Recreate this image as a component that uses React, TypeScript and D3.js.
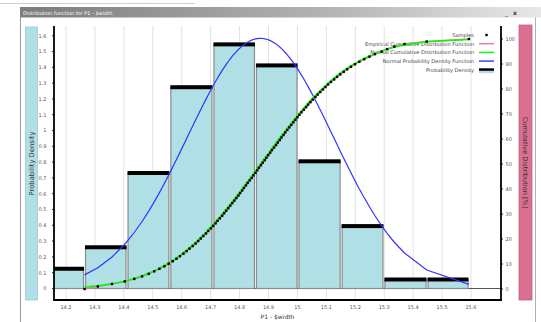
import React from "react";
import * as d3 from "d3";

// ---- data ----
const xTicks = [14.2, 14.3, 14.4, 14.5, 14.6, 14.7, 14.8, 14.9, 15.0, 15.1, 15.2, 15.3, 15.4, 15.5, 15.6];
const densityTicks = [0, 0.1, 0.2, 0.3, 0.4, 0.5, 0.6, 0.7, 0.8, 0.9, 1.0, 1.1, 1.2, 1.3, 1.4, 1.5, 1.6];
const percentTicks = [0, 10, 20, 30, 40, 50, 60, 70, 80, 90, 100];

const binEdges = [14.116, 14.264, 14.411, 14.559, 14.708, 14.855, 15.002, 15.151, 15.299, 15.448, 15.593];
const binDensity = [0.125, 0.261, 0.731, 1.274, 1.545, 1.412, 0.805, 0.395, 0.057, 0.057];

const samples = [
  14.264, 14.31, 14.359, 14.403, 14.436, 14.463, 14.486, 14.505, 14.523, 14.54,
  14.555, 14.569, 14.582, 14.594, 14.606, 14.617, 14.627, 14.638, 14.648, 14.657,
  14.666, 14.675, 14.684, 14.692, 14.701, 14.709, 14.717, 14.724, 14.732, 14.74,
  14.747, 14.754, 14.761, 14.768, 14.775, 14.782, 14.789, 14.796, 14.802, 14.809,
  14.815, 14.822, 14.828, 14.835, 14.842, 14.848, 14.855, 14.861, 14.867, 14.874,
  14.88, 14.887, 14.893, 14.899, 14.906, 14.912, 14.919, 14.926, 14.932, 14.939,
  14.945, 14.952, 14.958, 14.965, 14.972, 14.979, 14.986, 14.993, 15.0, 15.007,
  15.014, 15.022, 15.03, 15.037, 15.045, 15.053, 15.062, 15.07, 15.079, 15.088,
  15.097, 15.106, 15.116, 15.127, 15.137, 15.148, 15.16, 15.172, 15.185, 15.199,
  15.214, 15.231, 15.249, 15.268, 15.291, 15.31, 15.335, 15.37, 15.447, 15.593,
];

const fitMean = 14.872;
const fitSd = 0.252;

const legendItems = [
  "Samples",
  "Empirical Cumulative Distribution Function",
  "Normal Cumulative Distribution Function",
  "Normal Probability Density Function",
  "Probability Density",
];

// ---- helpers ----
function erf(x: number) {
  const s = x < 0 ? -1 : 1;
  const a = Math.abs(x);
  const t = 1 / (1 + 0.3275911 * a);
  const y =
    1 -
    ((((1.061405429 * t - 1.453152027) * t + 1.421413741) * t - 0.284496736) * t + 0.254829592) *
      t *
      Math.exp(-a * a);
  return s * y;
}
const normPdf = (v: number) =>
  Math.exp(-0.5 * ((v - fitMean) / fitSd) ** 2) / (fitSd * Math.sqrt(2 * Math.PI));
const normCdf = (v: number) => 0.5 * (1 + erf((v - fitMean) / (fitSd * Math.SQRT2)));
const fmt = (v: number) => String(+v.toFixed(1));

const FONT = "DejaVu Sans, sans-serif";

export default function App() {
  const left = 54;
  const right = 501;
  const top = 26;
  const bottom = 300;

  const x = d3.scaleLinear().domain([14.2, 15.6]).range([66, 471]);
  const yL = d3.scaleLinear().domain([0, 1.6]).range([288.5, 35.7]);
  const yR = d3.scaleLinear().domain([0, 100]).range([289, 39]);

  const n = samples.length;
  const pdfLine = d3
    .line<number>()
    .x((d) => x(d))
    .y((d) => yL(normPdf(d)))(samples) as string;
  const cdfLine = d3
    .line<number>()
    .x((d) => x(d))
    .y((d) => yR(normCdf(d) * 100))(samples) as string;
  const ecdfLine = d3
    .line<number>()
    .x((d) => x(d))
    .y((d, i) => yR((i / (n - 1)) * 100))(samples) as string;

  const legendX = 474;
  const legendY0 = 35;
  const legendDy = 8.7;

  return (
    <svg
      width={541}
      height={322}
      style={{ position: "absolute", left: 0, top: 0, background: "#fff" }}
    >
      <defs>
        <linearGradient id="titleGrad" x1="0" x2="1" y1="0" y2="0">
          <stop offset="0" stopColor="#7c7c7c" />
          <stop offset="0.6" stopColor="#b4b4b4" />
          <stop offset="1" stopColor="#e8e8e8" />
        </linearGradient>
        <clipPath id="plotClip">
          <rect x={left} y={top} width={right - left} height={bottom - top} />
        </clipPath>
      </defs>

      {/* top strip */}
      <line x1={0} x2={195} y1={3.5} y2={3.5} stroke="#d0d0d0" strokeWidth={1} />

      {/* window frame */}
      <line x1={20.5} x2={20.5} y1={7} y2={322} stroke="#9a9a9a" strokeWidth={1} />
      <line x1={535.5} x2={535.5} y1={7} y2={322} stroke="#b0b0b0" strokeWidth={1} />
      <rect x={20} y={7} width={521} height={10.5} fill="url(#titleGrad)" />
      <text x={23} y={14.6} fontFamily={FONT} fontSize={5} fill="#fff">
        Distribution function for P1 - $width
      </text>
      <text x={505} y={15} fontFamily={FONT} fontSize={6} fill="#333">
        _
      </text>
      <text x={513} y={15} fontFamily={FONT} fontSize={6} fontWeight="bold" fill="#333">
        x
      </text>

      {/* side label boxes */}
      <rect x={25.5} y={27} width={12} height={273} fill="#b0dfe5" stroke="#a0c8cc" strokeWidth={0.8} />
      <text
        transform={`translate(33.8,163.5) rotate(-90)`}
        textAnchor="middle"
        fontFamily={FONT}
        fontSize={6.8}
        fill="#333"
      >
        Probability Density
      </text>
      <rect x={519} y={25} width={13} height={275} fill="#d9708f" stroke="#c86080" strokeWidth={0.8} />
      <text
        transform={`translate(523.2,162.5) rotate(90)`}
        textAnchor="middle"
        fontFamily={FONT}
        fontSize={6.6}
        fill="#333"
      >
        Cumulative Distribution [%]
      </text>

      {/* grid */}
      {xTicks.map((t) => (
        <line key={"g" + t} x1={x(t)} x2={x(t)} y1={top} y2={bottom} stroke="#e2e2e2" strokeWidth={1} />
      ))}

      {/* zero line */}
      <line x1={left} x2={right} y1={yL(0)} y2={yL(0)} stroke="#555" strokeWidth={1} />

      {/* legend (drawn under the curves, as in the reference) */}
      {legendItems.map((label, i) => (
        <text
          key={label}
          x={legendX}
          y={legendY0 + i * legendDy + 1.8}
          textAnchor="end"
          fontFamily={FONT}
          fontSize={5.1}
          fill="#444"
        >
          {label}
        </text>
      ))}
      <rect x={485.3} y={legendY0 - 1.2} width={2.4} height={2.4} fill="#000" />
      <line x1={479} x2={494} y1={legendY0 + legendDy} y2={legendY0 + legendDy} stroke="#e07a9a" strokeWidth={1.4} />
      <line x1={479} x2={494} y1={legendY0 + 2 * legendDy} y2={legendY0 + 2 * legendDy} stroke="#00ff00" strokeWidth={1.4} />
      <line x1={479} x2={494} y1={legendY0 + 3 * legendDy} y2={legendY0 + 3 * legendDy} stroke="#3333ff" strokeWidth={1.4} />
      <rect x={479} y={legendY0 + 4 * legendDy - 1.5} width={15} height={2.6} fill="#000" />
      <rect x={479} y={legendY0 + 4 * legendDy + 1.1} width={15} height={2.2} fill="#b0dfe5" />

      <g clipPath="url(#plotClip)">
        {/* histogram */}
        {binDensity.map((v, i) => {
          const x0 = x(binEdges[i]) + 1;
          const x1 = x(binEdges[i + 1]) - 1;
          return (
            <g key={"b" + i}>
              <rect
                x={x0}
                y={yL(v)}
                width={x1 - x0}
                height={yL(0) - yL(v)}
                fill="#b0dfe5"
                stroke="#8c8c8c"
                strokeWidth={1.2}
              />
              <rect x={x0 - 0.5} y={yL(v) - 2} width={x1 - x0 + 1} height={4} fill="#000" />
            </g>
          );
        })}

        {/* normal pdf */}
        <path d={pdfLine} fill="none" stroke="#3333ff" strokeWidth={1.2} />
        {/* empirical cdf */}
        <path d={ecdfLine} fill="none" stroke="#e07a9a" strokeWidth={1.6} />
        {/* normal cdf */}
        <path d={cdfLine} fill="none" stroke="#00ff00" strokeWidth={1.5} />
        {/* samples */}
        {samples.map((s, i) => (
          <rect
            key={"s" + i}
            x={x(s) - 1.2}
            y={yR((i / (n - 1)) * 100) - 1.2}
            width={2.4}
            height={2.4}
            fill="#000"
          />
        ))}
      </g>

      {/* axes */}
      <line x1={left} x2={left} y1={top} y2={bottom + 1} stroke="#000" strokeWidth={1.8} />
      <line x1={right} x2={right} y1={top} y2={bottom + 1} stroke="#000" strokeWidth={1.8} />
      <line x1={left} x2={right + 0.9} y1={bottom} y2={bottom} stroke="#000" strokeWidth={1.8} />

      {densityTicks.map((t) => (
        <g key={"l" + t}>
          <line x1={left - 2} x2={left} y1={yL(t)} y2={yL(t)} stroke="#000" strokeWidth={0.8} />
          <text
            x={46.5}
            y={yL(t) + 1.8}
            textAnchor="end"
            fontFamily={FONT}
            fontSize={5}
            fill="#555"
          >
            {fmt(t)}
          </text>
        </g>
      ))}
      {percentTicks.map((t) => (
        <g key={"r" + t}>
          <line x1={right} x2={right + 2} y1={yR(t)} y2={yR(t)} stroke="#000" strokeWidth={0.8} />
          <text x={505.5} y={yR(t) + 1.8} fontFamily={FONT} fontSize={5} fill="#555">
            {t}
          </text>
        </g>
      ))}
      {xTicks.map((t) => (
        <text
          key={"x" + t}
          x={x(t)}
          y={308.5}
          textAnchor="middle"
          fontFamily={FONT}
          fontSize={5}
          fill="#555"
        >
          {fmt(t)}
        </text>
      ))}
      <text
        x={(left + right) / 2}
        y={319}
        textAnchor="middle"
        fontFamily={FONT}
        fontSize={6}
        fill="#333"
      >
        P1 - $width
      </text>
    </svg>
  );
}
